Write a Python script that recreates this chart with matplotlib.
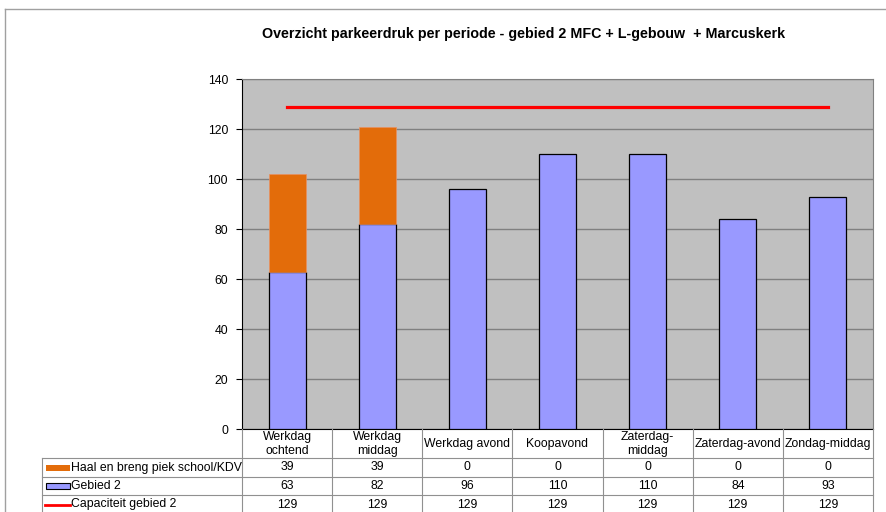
import matplotlib
matplotlib.use("Agg")
import matplotlib.pyplot as plt
from matplotlib.lines import Line2D
from matplotlib.patches import Rectangle
import numpy as np

plt.rcParams['font.family'] = ['Liberation Sans', 'DejaVu Sans']

categories = ["Werkdag\nochtend", "Werkdag\nmiddag", "Werkdag avond", "Koopavond",
              "Zaterdag-\nmiddag", "Zaterdag-avond", "Zondag-middag"]
haal_breng = [39, 39, 0, 0, 0, 0, 0]
gebied2 = [63, 82, 96, 110, 110, 84, 93]
capaciteit = [129, 129, 129, 129, 129, 129, 129]
series_names = ["Haal en breng piek school/KDV", "Gebied 2", "Capaciteit gebied 2"]
title = "Overzicht parkeerdruk per periode - gebied 2 MFC + L-gebouw  + Marcuskerk"

W, H = 887, 512
fig = plt.figure(figsize=(W / 100, H / 100), dpi=100)

# outer frame (top and left)
fig.add_artist(Line2D([5 / W, 5 / W], [0, 1 - 9 / H], transform=fig.transFigure, color="#a0a0a0", lw=1))
fig.add_artist(Line2D([5 / W, 1], [1 - 9 / H, 1 - 9 / H], transform=fig.transFigure, color="#a0a0a0", lw=1))

L, R, T, B = 242, 873, 79, 429
ax = fig.add_axes([L / W, 1 - B / H, (R - L) / W, (B - T) / H])
ax.set_facecolor("#c0c0c0")

x = np.arange(len(categories))
bw = 0.41
ax.bar(x, gebied2, width=bw, color="#9999ff", edgecolor="black", linewidth=0.9, zorder=3)
hb = np.array(haal_breng, dtype=float)
mask = hb > 0
ax.bar(x[mask], hb[mask], width=bw, bottom=np.array(gebied2)[mask], color="#e36c0a",
       edgecolor="#e89060", linewidth=0.5, zorder=3)
ax.plot(x, capaciteit, color="#ff0000", lw=2.3, zorder=4)

ax.set_xlim(-0.5, len(categories) - 0.5)
ax.set_ylim(0, 140)
ax.set_yticks(range(0, 141, 20))
ax.yaxis.grid(True, color="#808080", lw=1, zorder=0)
ax.set_axisbelow(True)
ax.set_xticks([])
ax.tick_params(axis="y", labelsize=8.8, length=4, width=0.8, direction="out", pad=6)
for s in ["top", "right"]:
    ax.spines[s].set_color("#808080")
ax.spines["left"].set_color("black")
ax.spines["bottom"].set_color("black")

fig.text(524 / W, 1 - 34 / H, title, ha="center", va="center", fontsize=10.3, fontweight="bold")

def fx(px):
    return px / W

def fy(py):
    return 1 - py / H

colw = (R - L) / len(categories)
row_edges = [B, 458, 477, 495, 514]
gc = "#909090"
for yy in row_edges[1:4]:
    fig.add_artist(Line2D([fx(42), fx(R)], [fy(yy), fy(yy)], transform=fig.transFigure, color=gc, lw=0.8))
for i in range(len(categories) + 1):
    xx = L + i * colw
    fig.add_artist(Line2D([fx(xx), fx(xx)], [fy(B), fy(512)], transform=fig.transFigure, color=gc, lw=0.8))
fig.add_artist(Line2D([fx(42), fx(42)], [fy(458), fy(512)], transform=fig.transFigure, color=gc, lw=0.8))

fs = 8.8
for i, c in enumerate(categories):
    cx = L + (i + 0.5) * colw
    fig.text(fx(cx), fy((B + 458) / 2 + 0.5), c, ha="center", va="center", fontsize=fs, linespacing=1.3)

rows = [haal_breng, gebied2, capaciteit]
for r, vals in enumerate(rows):
    cy = (row_edges[r + 1] + row_edges[r + 2]) / 2
    for i, v in enumerate(vals):
        cx = L + (i + 0.5) * colw
        fig.text(fx(cx), fy(cy), str(v), ha="center", va="center", fontsize=fs)
    fig.text(fx(71), fy(cy), series_names[r], ha="left", va="center", fontsize=fs)

cy0 = (458 + 477) / 2
fig.add_artist(Rectangle((fx(46), fy(cy0 + 3)), (70 - 46) / W, 6 / H, transform=fig.transFigure,
                         facecolor="#e36c0a", edgecolor="none"))
cy1 = (477 + 495) / 2
fig.add_artist(Rectangle((fx(46), fy(cy1 + 3)), (70 - 46) / W, 6 / H, transform=fig.transFigure,
                         facecolor="#9999ff", edgecolor="black", lw=0.8))
cy2 = (495 + 514) / 2
fig.add_artist(Line2D([fx(45), fx(70)], [fy(cy2), fy(cy2)], transform=fig.transFigure, color="#ff0000", lw=2))

fig.savefig("out.png", dpi=100)
